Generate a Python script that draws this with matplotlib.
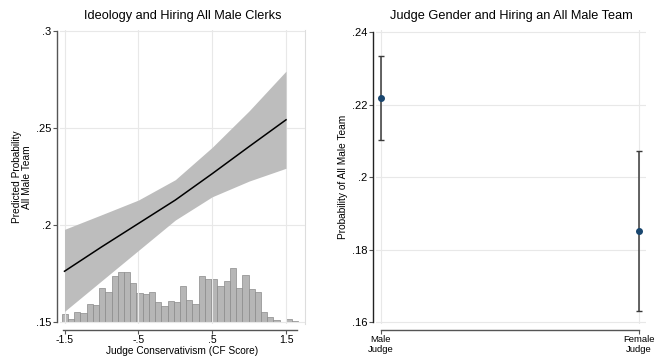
import numpy as np
import matplotlib
matplotlib.use("Agg")
from matplotlib import pyplot as plt

plt.rcParams['font.family'] = ['Liberation Sans', 'DejaVu Sans']

# left panel: margins of predicted probability over CF score
cf_score = [-1.5, -1.0, -0.5, 0.0, 0.5, 1.0, 1.5]
pred = [0.1763, 0.1888, 0.2009, 0.2130, 0.2266, 0.2406, 0.2544]
pred_hi = [0.1979, 0.2054, 0.2130, 0.2235, 0.2402, 0.2590, 0.2795]
pred_lo = [0.1556, 0.1713, 0.1870, 0.2027, 0.2147, 0.2228, 0.2294]

# histogram of judge CF scores (density)
hist_lo, hist_hi = -1.537, 1.666
hist_density = [.103, .040, .123, .111, .219, .207, .409, .362, .552, .600,
                .600, .469, .350, .338, .362, .242, .195, .254, .242, .437,
                .266, .219, .552, .517, .517, .433, .493, .648, .409, .564,
                .397, .362, .123, .064, .028, 0.0, .040, .016]

# right panel: probability by judge gender
genders = ['Male\nJudge', 'Female\nJudge']
gender_prob = [0.2218, 0.1852]
gender_hi = [0.2334, 0.2072]
gender_lo = [0.2104, 0.1630]

W, H = 655, 358
fig = plt.figure(figsize=(W / 100, H / 100), dpi=100)
fig.patch.set_facecolor('white')

grid_c = '#e8e8e8'
axis_c = '#555555'
tick_fs = 8
lab_fs = 7.3
title_fs = 9.2


def px_box(x0, y0, x1, y1):
    return [x0 / W, 1 - y1 / H, (x1 - x0) / W, (y1 - y0) / H]


# ---- left panel
ax_h = fig.add_axes(px_box(60, 30, 304.5, 324))
ax = fig.add_axes(px_box(60, 30, 304.5, 324), sharex=ax_h)
ax.set_zorder(2)
ax.patch.set_visible(False)

edges = np.linspace(hist_lo, hist_hi, len(hist_density) + 1)
ax_h.bar(edges[:-1], hist_density, width=np.diff(edges), align='edge',
         color='#b6b6b6', edgecolor='#8a8a8a', linewidth=0.5)
ax_h.set_ylim(-0.0203, 3.488)
ax_h.set_yticks([])
for s in ['left', 'top', 'bottom']:
    ax_h.spines[s].set_visible(False)
ax_h.spines['right'].set_color('#dddddd')
ax_h.tick_params(bottom=False, labelbottom=False)

ax.fill_between(cf_score, pred_lo, pred_hi, color='#bdbdbd', linewidth=0, zorder=2)
ax.plot(cf_score, pred, color='black', linewidth=1.1, zorder=3)

ax.set_xlim(-1.561, 1.75)
ax.set_ylim(0.1491, 0.3007)
ax.set_xticks([-1.5, -0.5, 0.5, 1.5])
ax.set_xticklabels(['-1.5', '-.5', '.5', '1.5'])
ax.set_yticks([0.15, 0.2, 0.25, 0.3])
ax.set_yticklabels(['.15', '.2', '.25', '.3'])
ax.grid(True, color=grid_c, linewidth=0.8, zorder=0)
ax.set_axisbelow(True)
for s in ['top', 'right']:
    ax.spines[s].set_visible(False)
ax.spines['left'].set_position(('outward', 2.2))
ax.spines['left'].set_bounds(0.15, 0.3)
ax.spines['bottom'].set_position(('outward', 4.3))
ax.spines['bottom'].set_bounds(-1.52, 1.65)
for s in ['left', 'bottom']:
    ax.spines[s].set_color(axis_c)
    ax.spines[s].set_linewidth(1.0)
ax.tick_params(labelsize=tick_fs, length=3, width=0.8, color=axis_c, pad=1)
ax.tick_params(axis='x', labelsize=7.6, pad=0.5)
ax.set_xlabel('Judge Conservativism (CF Score)', fontsize=lab_fs, labelpad=0.5)
ax.set_ylabel('Predicted Probability\nAll Male Team', fontsize=lab_fs,
              labelpad=3, linespacing=0.95)
ax.set_title('Ideology and Hiring All Male Clerks', fontsize=title_fs, pad=8)

# ---- right panel
ax2 = fig.add_axes(px_box(376, 30, 646, 324))
xpos = np.arange(len(genders))
yerr = [np.array(gender_prob) - np.array(gender_lo),
        np.array(gender_hi) - np.array(gender_prob)]
ax2.errorbar(xpos, gender_prob, yerr=yerr, fmt='none', ecolor='#3a3a3a',
             elinewidth=1.1, capsize=2.5, capthick=1.0, zorder=3)
ax2.plot(xpos, gender_prob, 'o', color='#1a476f', markersize=4, zorder=4)
ax2.set_xlim(-0.018, 1.027)
ax2.set_ylim(0.15953, 0.24063)
ax2.set_xticks(xpos)
ax2.set_xticklabels(genders, linespacing=0.95)
ax2.set_yticks([0.16, 0.18, 0.2, 0.22, 0.24])
ax2.set_yticklabels(['.16', '.18', '.2', '.22', '.24'])
ax2.grid(True, color=grid_c, linewidth=0.8, zorder=0)
ax2.set_axisbelow(True)
for s in ['top', 'right']:
    ax2.spines[s].set_visible(False)
ax2.spines['left'].set_position(('outward', 2.2))
ax2.spines['left'].set_bounds(0.16, 0.24)
ax2.spines['bottom'].set_position(('outward', 4.3))
ax2.spines['bottom'].set_bounds(0, 1)
for s in ['left', 'bottom']:
    ax2.spines[s].set_color(axis_c)
    ax2.spines[s].set_linewidth(1.0)
ax2.spines['left'].set_color('#222222')
ax2.tick_params(labelsize=tick_fs, length=3, width=0.8, color=axis_c, pad=1)
ax2.tick_params(axis='x', labelsize=6.8, pad=0.5)
ax2.set_ylabel('Probability of All Male Team', fontsize=lab_fs, labelpad=3)
ax2.set_title('Judge Gender and Hiring an All Male Team', fontsize=title_fs, pad=8)

fig.savefig('out.png', dpi=100)
